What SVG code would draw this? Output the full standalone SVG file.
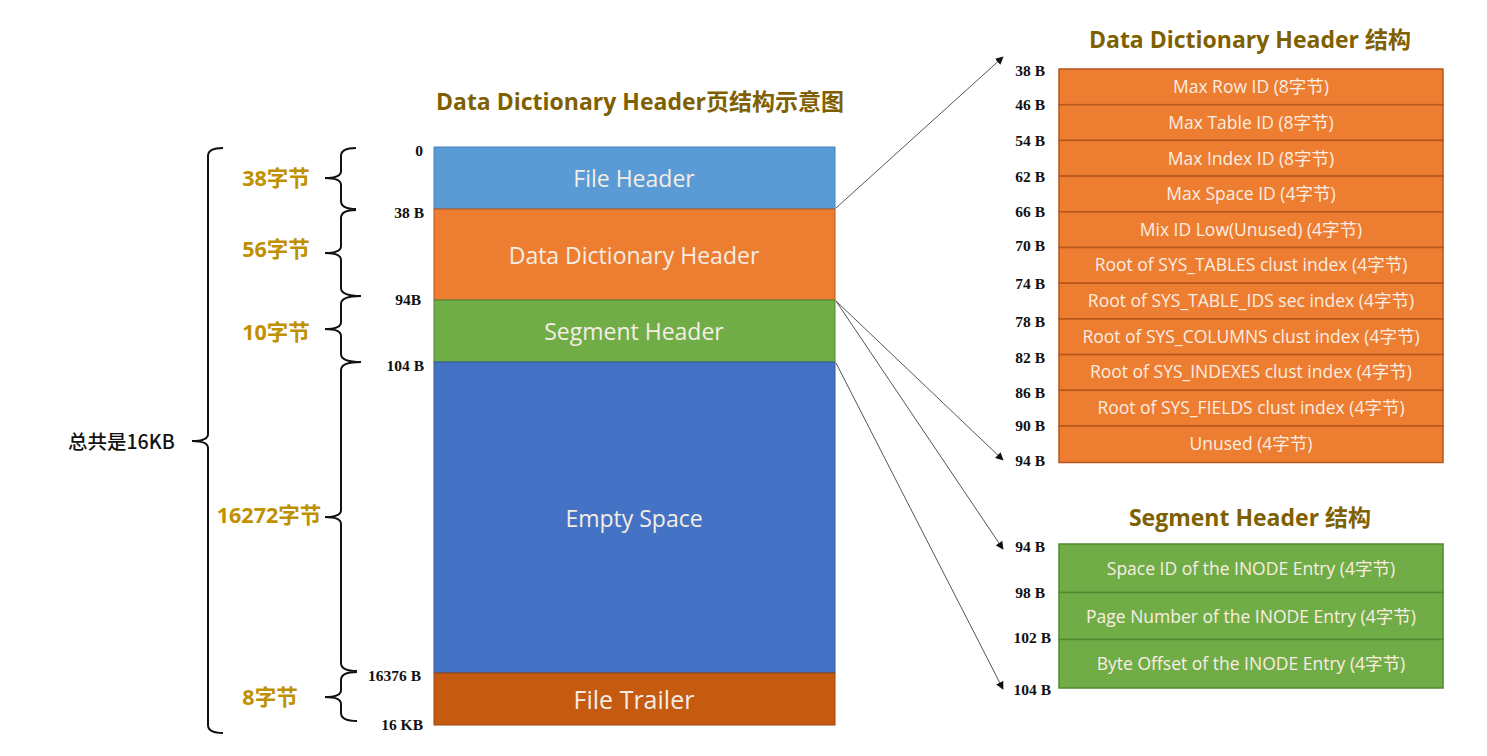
<svg xmlns="http://www.w3.org/2000/svg" width="1487" height="756" viewBox="0 0 1487 756">
<defs>
<marker id="ah" viewBox="0 0 10 10" refX="9" refY="5" markerWidth="8" markerHeight="8" markerUnits="userSpaceOnUse" orient="auto"><path d="M0,0 L10,5 L0,10 z" fill="#111"/></marker>
<style>
.title{font-family:"Open Sans","Noto Sans CJK SC",sans-serif;font-weight:bold;fill:#7F6000;text-anchor:middle}
.blk{font-family:"Open Sans","Noto Sans CJK SC",sans-serif;font-size:23px;fill:#F4EDE4;text-anchor:middle}
.row{font-family:"Open Sans","Noto Sans CJK SC",sans-serif;font-size:17.5px;fill:#FBEDE2;text-anchor:middle}
.off{font-family:"Liberation Serif",serif;font-size:15.5px;font-weight:bold;fill:#111;text-anchor:end}
.gold{font-family:"Open Sans","Noto Sans CJK SC",sans-serif;font-size:21.5px;font-weight:bold;fill:#BF9000;text-anchor:middle}
.brace{fill:none;stroke:#111;stroke-width:2}
.conn{fill:none;stroke:#555;stroke-width:1;marker-end:url(#ah)}
.o{fill:#ED7D31;stroke:#B5561C;stroke-width:1.5}
.g{fill:#70AD47;stroke:#4F8A31;stroke-width:1.5}
</style>
</defs>
<rect width="1487" height="756" fill="#fff"/>

<text class="title" x="640" y="110" font-size="23">Data Dictionary Header页结构示意图</text>

<g id="file-header"><rect x="434" y="147" width="401" height="62" fill="#5B9BD5" stroke="#4A84BA" stroke-width="1"/><text class="blk" x="634" y="187">File Header</text></g>
<g id="dd-header"><rect x="434" y="209" width="401" height="91" fill="#ED7D31" stroke="#B5561C" stroke-width="1"/><text class="blk" x="634" y="264">Data Dictionary Header</text></g>
<g id="segment-header"><rect x="434" y="300" width="401" height="62" fill="#70AD47" stroke="#4F8A31" stroke-width="1"/><text class="blk" x="634" y="340">Segment Header</text></g>
<g id="empty-space"><rect x="434" y="362" width="401" height="311" fill="#4472C4" stroke="#35599A" stroke-width="1"/><text class="blk" x="634" y="527">Empty Space</text></g>
<g id="file-trailer"><rect x="434" y="673" width="401" height="52" fill="#C55A11" stroke="#9E470C" stroke-width="1"/><text class="blk" x="634" y="709" style="font-size:25px">File Trailer</text></g>

<g id="offsets-main">
<text class="off" x="423" y="156">0</text>
<text class="off" x="424" y="218">38 B</text>
<text class="off" x="421" y="305">94B</text>
<text class="off" x="424" y="371">104 B</text>
<text class="off" x="421" y="681">16376 B</text>
<text class="off" x="423" y="730">16 KB</text>
</g>

<g id="braces">
<path class="brace" d="M356,148 Q341,148 341,156 L341,171 Q341,178 325,178 Q341,178 341,185 L341,201 Q341,209 356,209"/>
<path class="brace" d="M356,210 Q341,210 341,218 L341,246 Q341,253 325,253 Q341,253 341,260 L341,288 Q341,296 361,296"/>
<path class="brace" d="M361,296 Q341,296 341,304 L341,322 Q341,329 325,329 Q341,329 341,336 L341,354 Q341,362 361,362"/>
<path class="brace" d="M361,362 Q341,362 341,370 L341,510 Q341,517 325,517 Q341,517 341,524 L341,663 Q341,671 357,671"/>
<path class="brace" d="M357,672 Q341,672 341,680 L341,690 Q341,697 325,697 Q341,697 341,704 L341,713 Q341,721 357,721"/>
<path class="brace" d="M223,148 Q208,148 208,156 L208,434 Q208,441 192,441 Q208,441 208,448 L208,725 Q208,733 223,733"/>
</g>

<g id="size-labels">
<text class="gold" x="276" y="186">38字节</text>
<text class="gold" x="276" y="257">56字节</text>
<text class="gold" x="276" y="340">10字节</text>
<text class="gold" x="269" y="523">16272字节</text>
<text class="gold" x="270" y="705">8字节</text>
<text x="68" y="449" font-family="'Noto Sans CJK SC',sans-serif" font-size="19.5" font-weight="500" fill="#111">总共是16KB</text>
</g>

<text class="title" x="1250" y="48" font-size="23">Data Dictionary Header 结构</text>
<g id="dd-structure">
<rect class="o" x="1059" y="69" width="384" height="35.7"/>
<rect class="o" x="1059" y="104.7" width="384" height="35.7"/>
<rect class="o" x="1059" y="140.4" width="384" height="35.7"/>
<rect class="o" x="1059" y="176.1" width="384" height="35.7"/>
<rect class="o" x="1059" y="211.8" width="384" height="35.7"/>
<rect class="o" x="1059" y="247.5" width="384" height="35.7"/>
<rect class="o" x="1059" y="283.2" width="384" height="35.7"/>
<rect class="o" x="1059" y="318.9" width="384" height="35.7"/>
<rect class="o" x="1059" y="354.6" width="384" height="35.7"/>
<rect class="o" x="1059" y="390.3" width="384" height="35.7"/>
<rect class="o" x="1059" y="426" width="384" height="36.5"/>
<text class="row" x="1251" y="93">Max Row ID (8字节)</text>
<text class="row" x="1251" y="129">Max Table ID (8字节)</text>
<text class="row" x="1251" y="165">Max Index ID (8字节)</text>
<text class="row" x="1251" y="200">Max Space ID (4字节)</text>
<text class="row" x="1251" y="236">Mix ID Low(Unused) (4字节)</text>
<text class="row" x="1251" y="271">Root of SYS_TABLES clust index (4字节)</text>
<text class="row" x="1251" y="307">Root of SYS_TABLE_IDS sec index (4字节)</text>
<text class="row" x="1251" y="343">Root of SYS_COLUMNS clust index (4字节)</text>
<text class="row" x="1251" y="378">Root of SYS_INDEXES clust index (4字节)</text>
<text class="row" x="1251" y="414">Root of SYS_FIELDS clust index (4字节)</text>
<text class="row" x="1251" y="450">Unused (4字节)</text>
</g>
<g id="dd-offsets">
<text class="off" x="1045" y="76">38 B</text>
<text class="off" x="1045" y="110">46 B</text>
<text class="off" x="1045" y="146">54 B</text>
<text class="off" x="1045" y="182">62 B</text>
<text class="off" x="1045" y="217">66 B</text>
<text class="off" x="1045" y="251">70 B</text>
<text class="off" x="1045" y="289">74 B</text>
<text class="off" x="1045" y="327">78 B</text>
<text class="off" x="1045" y="363">82 B</text>
<text class="off" x="1045" y="398">86 B</text>
<text class="off" x="1045" y="431">90 B</text>
<text class="off" x="1045" y="466">94 B</text>
</g>

<text class="title" x="1250" y="526" font-size="23">Segment Header 结构</text>
<g id="seg-structure">
<rect class="g" x="1059" y="544" width="384" height="48.5"/>
<rect class="g" x="1059" y="592.5" width="384" height="47"/>
<rect class="g" x="1059" y="639.5" width="384" height="48.5"/>
<text class="row" x="1251" y="575">Space ID of the INODE Entry (4字节)</text>
<text class="row" x="1251" y="623">Page Number of the INODE Entry (4字节)</text>
<text class="row" x="1251" y="670">Byte Offset of the INODE Entry (4字节)</text>
</g>
<g id="seg-offsets">
<text class="off" x="1045" y="552">94 B</text>
<text class="off" x="1045" y="598">98 B</text>
<text class="off" x="1051" y="643">102 B</text>
<text class="off" x="1051" y="695">104 B</text>
</g>

<g id="connectors">
<line class="conn" x1="836" y1="208" x2="1003" y2="57"/>
<line class="conn" x1="836" y1="301" x2="1003" y2="460"/>
<line class="conn" x1="836" y1="301" x2="1003" y2="549"/>
<line class="conn" x1="836" y1="363" x2="1003" y2="689"/>
</g>
</svg>
